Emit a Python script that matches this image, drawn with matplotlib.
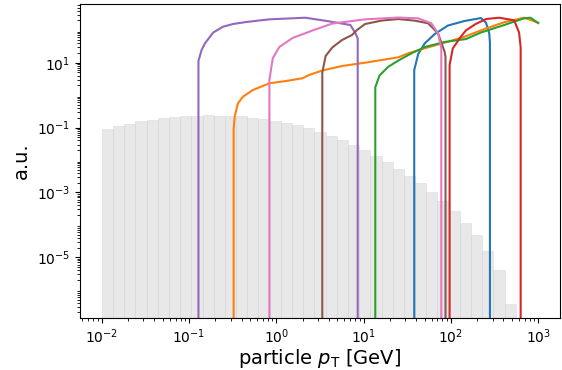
import numpy as np
import matplotlib
matplotlib.use("Agg")
import matplotlib.pyplot as plt

# Histogram (39 log-spaced bins between 1e-2 and 1e3); heights as log10 values
bin_edges = np.logspace(-2, 3, 40)
hist_log10 = [-1.043, -0.951, -0.889, -0.797, -0.766, -0.704, -0.673, -0.643,
              -0.643, -0.612, -0.643, -0.643, -0.643, -0.704, -0.735, -0.797,
              -0.858, -0.920, -1.012, -1.136, -1.259, -1.382, -1.536, -1.690,
              -1.875, -2.060, -2.276, -2.492, -2.707, -2.985, -3.262, -3.570,
              -3.940, -4.310, -4.803, -5.388, -6.436, None, None]

LOW = 1e-12  # off-axis floor for the vertical edges

blue_x = [38.0, 38.0, 42.2, 50.2, 65.3, 92.5, 143, 221, 252, 275, 280, 280]
blue_y = [LOW, 5.96, 18.5, 39.6, 76.6, 140, 193, 238, 173, 80.5, 40.5, LOW]

orange_x = [0.324, 0.324, 0.333, 0.363, 0.414, 0.538, 0.832, 1.29, 1.99, 2.37,
            3.36, 5.66, 10.4, 25.0, 32.5, 50.2, 92.5, 143, 242, 407, 689, 1000]
orange_y = [LOW, 0.0906, 0.217, 0.561, 0.896, 1.44, 2.32, 2.73, 3.31, 4.18,
            5.75, 7.91, 10.0, 14.7, 19.5, 27.8, 44.4, 63.2, 109, 176, 244, 171]

green_x = [13.6, 13.6, 15.2, 19.2, 25.6, 35.4, 50.2, 84.7, 149, 221, 407, 689, 818, 1000]
green_y = [LOW, 1.75, 4.03, 7.54, 12.1, 19.5, 30.5, 43.5, 53.7, 85.3, 145, 233, 244, 167]

red_x = [96.6, 96.6, 105, 126, 148, 192, 253, 357, 530, 604, 630, 630]
red_y = [LOW, 8.5, 27.4, 56.5, 98.2, 156, 222, 244, 203, 85.3, 29.4, LOW]

purple_x = [0.128, 0.128, 0.139, 0.152, 0.189, 0.245, 0.319, 0.453, 0.832, 2.14,
            3.80, 7.06, 8.05, 8.55, 8.55]
purple_y = [LOW, 11.3, 24.6, 39.6, 85.3, 129, 156, 180, 217, 244,
            193, 145, 80.5, 56.5, LOW]

brown_x = [3.36, 3.36, 3.67, 4.37, 5.66, 7.36, 8.39, 10.4, 16.1, 25.0, 38.7,
           54.8, 71.2, 84.7, 86.7, 86.7]
brown_y = [LOW, 4.99, 16.1, 29.4, 50.1, 71.5, 102, 156, 199, 222, 197,
           164, 80.5, 21.8, 15.0, LOW]

pink_x = [0.832, 0.832, 0.908, 1.08, 1.53, 2.59, 4.37, 10.4, 25.0, 42.2, 59.7,
          71.2, 77.6, 77.6]
pink_y = [LOW, 2.93, 13.5, 30.5, 57.7, 98.2, 161, 217, 247, 233, 164,
          80.5, 28.4, LOW]

series = [
    (blue_x, blue_y, "C0"),
    (orange_x, orange_y, "C1"),
    (green_x, green_y, "C2"),
    (red_x, red_y, "C3"),
    (purple_x, purple_y, "C4"),
    (brown_x, brown_y, "C5"),
    (pink_x, pink_y, "C6"),
]

fig = plt.figure(figsize=(5.62, 3.70), dpi=100)
ax = fig.add_axes([80 / 562, (370 - 317.7) / 370, 480 / 562, (317.7 - 4) / 370])

heights = [10 ** h if h is not None else 0.0 for h in hist_log10]
ax.bar(bin_edges[:-1], heights, width=np.diff(bin_edges), align="edge",
       color="lightgray", alpha=0.5, edgecolor="lightgray", linewidth=0.6)

for xs, ys, c in series:
    ax.plot(xs, ys, color=c, linewidth=1.5)

ax.set_xscale("log")
ax.set_yscale("log")
ax.set_xlim(10 ** -2.25, 10 ** 3.25)
ax.set_ylim(1.38e-7, 645)
ax.set_yticks([1e-5, 1e-3, 1e-1, 1e1])
ax.set_xlabel(r"particle $p_\mathrm{T}$ [GeV]", fontsize=14, labelpad=1)
ax.set_ylabel("a.u.", fontsize=14)

fig.savefig("out.png", dpi=100)
